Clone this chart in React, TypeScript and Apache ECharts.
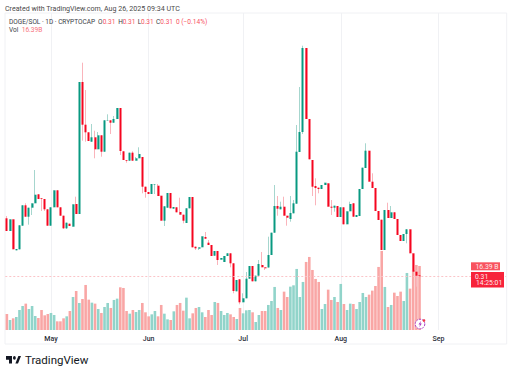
import React, { useEffect, useRef } from "react";
import * as echarts from "echarts";

const opens = [
  .3677,.355,.3667,.3357,.3367,.3603,.3807,.3693,.3783,.3827,.3917,.3877,.387,.3767,.3603,.3787,.3957,.3787,.3703,.3577,.3623,.3593,.382,.372,
  .504,.4613,.4537,.4443,.4487,.4367,.4507,.4343,.4653,.4657,.4633,.467,.478,.4347,.426,.4253,.4333,.4253,.4277,.429,.3993,.394,.392,.4015,.4003,.3903,
  .3653,.3783,.393,.3773,.3787,.374,.3713,.363,.3777,.389,.3393,.3373,.3387,.349,.3433,.341,.3303,.335,.3263,.324,.33,.3327,.3227,.2947,.3067,.2837,
  .2877,.3073,.32,.3047,.3103,.321,.3187,.3185,.331,.3533,.38,.3767,.3793,.3703,.367,.3727,.3823,.434,.454,.538,.467,.426,.4,.3983,.397,.401,.4027,.3793,
  .3783,.38,.369,.3787,.3617,.3747,.3827,.369,.37,.397,.418,.4353,.4043,.398,.375,.3663,.336,.376,.368,.3737,.367,.351,.345,.352,.3567,.3327,.3143,.3107,
];
const closes = [
  .355,.3667,.3367,.337,.3607,.3807,.3693,.3783,.3827,.3913,.387,.387,.3767,.3603,.3787,.3957,.3787,.3703,.3577,.3633,.36,.3817,.372,.504,
  .4613,.4537,.445,.4487,.4367,.4507,.4343,.4657,.4657,.4633,.467,.478,.435,.426,.4253,.4333,.4253,.4277,.432,.3993,.394,.392,.402,.402,.39,.3653,
  .3797,.393,.3777,.379,.3737,.3713,.3653,.3777,.389,.3387,.3377,.3387,.3497,.3473,.341,.33,.335,.326,.328,.33,.3327,.3227,.295,.306,.2837,.2877,
  .3073,.32,.3047,.3103,.322,.3187,.3177,.331,.3533,.38,.3773,.3793,.3703,.3683,.373,.3827,.4343,.454,.538,.467,.4267,.3993,.398,.397,.401,.4033,.3793,.3783,
  .3803,.369,.3787,.3617,.3747,.382,.3693,.371,.397,.4183,.4353,.4043,.398,.375,.366,.336,.376,.368,.3737,.367,.351,.345,.352,.3567,.3327,.3143,.3103,.3097,
];
const lows = [
  .355,.355,.3367,.3357,.3367,.3603,.3693,.3613,.371,.3827,.387,.375,.375,.3603,.3603,.3787,.3787,.3703,.357,.357,.36,.3593,.372,.372,
  .4453,.4443,.445,.4443,.4277,.4367,.4293,.4343,.4653,.452,.4633,.467,.431,.426,.4233,.4253,.4253,.4253,.4277,.3927,.3883,.392,.392,.392,.39,.3653,
  .36,.3783,.3777,.3773,.3737,.3713,.3627,.363,.3777,.3387,.336,.336,.3387,.3473,.341,.33,.3303,.321,.3263,.324,.33,.3187,.2927,.2947,.2817,.2837,
  .2877,.3073,.3047,.3047,.3103,.3187,.316,.3185,.331,.3533,.3703,.3767,.3703,.3603,.3643,.3727,.3823,.434,.452,.467,.4267,.39,.3807,.3927,.397,.401,.3793,.371,
  .3743,.369,.369,.3617,.3617,.3747,.3693,.369,.37,.397,.418,.4043,.398,.375,.366,.336,.336,.368,.368,.367,.351,.345,.345,.3427,.3327,.3143,.2993,.3097,
];
const highs = [
  .37,.3667,.3667,.337,.3607,.3807,.3827,.3783,.3827,.416,.3917,.3877,.387,.3767,.3787,.3957,.3957,.3787,.3703,.3633,.3623,.3817,.3893,.504,
  .5233,.496,.4537,.462,.4553,.454,.4507,.4657,.4717,.4657,.47,.478,.478,.4347,.426,.4333,.4347,.429,.4387,.429,.3993,.394,.402,.402,.402,.3903,
  .3797,.393,.393,.379,.3787,.3883,.3713,.3777,.389,.389,.3393,.3387,.3497,.354,.346,.341,.335,.335,.328,.33,.3327,.3327,.3227,.306,.3067,.2927,
  .314,.32,.32,.3103,.326,.334,.3187,.3493,.3533,.401,.39,.3843,.3893,.3703,.39,.386,.461,.499,.5403,.538,.467,.426,.4077,.3983,.401,.4033,.4027,.386,
  .3803,.38,.3787,.3787,.3747,.3843,.3827,.371,.397,.4183,.4427,.4353,.4127,.398,.375,.3663,.376,.3833,.38,.3737,.367,.351,.352,.3567,.3567,.3327,.316,.3107,
];
const volumes = [
  4.10,2.56,2.99,3.33,5.12,6.15,6.75,5.38,6.15,3.59,3.07,5.12,3.76,4.10,4.36,3.84,2.22,2.22,2.99,3.50,4.87,8.45,9.99,6.92,7.94,11.53,7.77,7.00,6.75,5.38,4.36,5.89,6.92,
  5.64,7.69,8.03,10.93,10.76,4.87,4.18,5.12,4.61,5.12,6.92,4.53,3.50,4.01,4.87,3.50,6.41,4.18,2.73,2.56,4.78,6.41,6.92,4.95,8.28,2.99,4.27,5.64,5.89,4.53,3.33,5.12,3.84,
  7.17,6.92,4.87,3.84,4.36,4.01,3.33,2.82,5.64,4.27,5.04,5.12,4.53,2.05,3.84,4.87,4.87,6.41,7.43,11.02,5.64,5.12,9.82,8.45,11.10,11.44,15.63,8.45,12.30,17.42,18.70,15.37,13.07,12.30,
  5.38,6.66,10.33,7.69,8.45,7.17,11.79,6.66,5.12,6.75,6.66,5.38,7.17,9.48,8.45,9.05,10.08,11.27,16.14,20.24,11.02,5.89,6.41,9.56,8.71,9.82,7.43,14.60,10.59,15.37,16.65,16.39,
];
const tickIndexes = [14, 45, 75, 106, 137];
const tickLabels = ["May", "Jun", "Jul", "Aug", "Sep"];
const categoryCount = 159;
const lastPrice = 0.31;
const priceMin = 0.256;
const priceMax = 0.573;
const volumeMax = 81.15;

const UP = "#089981";
const DOWN = "#f5051f";
const UP_WICK = "#a6d6ce";
const DOWN_WICK = "#fab4bb";
const UP_VOL = "#91d4ca";
const DOWN_VOL = "#f9a6a5";
const FONT = "Roboto, sans-serif";

echarts.graphic.registerShape(
  "tvMark",
  echarts.graphic.extendPath("M0 0H8V8H4V4H0Z M16.5 0L20 0L16 8H12.5Z M9.3 2A1.9 1.9 0 1 0 13.1 2A1.9 1.9 0 1 0 9.3 2Z", {})
);

const categories = Array.from({ length: categoryCount }, (_, i) => {
  const k = tickIndexes.indexOf(i);
  return k >= 0 ? tickLabels[k] : "d" + i;
});
const isTick = (i: number) => tickIndexes.includes(i);

const text = (x: number, y: number, t: string, fill: string, fontSize = 6.5, fontWeight: any = 400) => ({
  type: "text",
  x,
  y,
  silent: true,
  z: 20,
  style: { text: t, fill, fontSize, fontFamily: FONT, fontWeight, textVerticalAlign: "middle" },
});

export default function App() {
  const ref = useRef<HTMLDivElement>(null);
  useEffect(() => {
    const chart = echarts.init(ref.current!, undefined, { renderer: "svg" });
    const ohlc = opens.map((o, i) => [o, closes[i], lows[i], highs[i]]);
    const bodies = opens.map((o, i) => [o, closes[i], Math.min(o, closes[i]), Math.max(o, closes[i])]);
    chart.setOption({
      animation: false,
      backgroundColor: "#ffffff",
      grid: { left: 5.3, width: 500.85, top: 13, height: 317 },
      xAxis: {
        type: "category",
        data: categories,
        boundaryGap: true,
        axisLine: { show: false },
        axisTick: { show: false, alignWithLabel: true },
        axisLabel: {
          interval: (i: number) => isTick(i),
          color: "#2a2e39",
          fontSize: 7,
          fontFamily: FONT,
          fontWeight: 500,
          margin: 5,
          hideOverlap: false,
        },
        splitLine: { show: true, alignWithLabel: true, interval: (i: number) => isTick(i), lineStyle: { color: "#f0f1f4", width: 1 } },
      },
      yAxis: [
        { type: "value", scale: true, min: priceMin, max: priceMax, show: false, splitLine: { show: false } },
        { type: "value", min: 0, max: volumeMax, show: false, splitLine: { show: false } },
      ],
      series: [
        {
          name: "Vol",
          type: "bar",
          yAxisIndex: 1,
          barWidth: 2.6,
          z: 1,
          data: volumes.map((v, i) => ({
            value: v,
            itemStyle: { color: closes[i] >= opens[i] ? UP_VOL : DOWN_VOL },
          })),
        },
        {
          name: "Wicks",
          type: "candlestick",
          barWidth: 1,
          z: 2,
          itemStyle: { color: UP_WICK, color0: DOWN_WICK, borderColor: UP_WICK, borderColor0: DOWN_WICK, borderWidth: 1 },
          data: ohlc,
          markLine: {
            silent: true,
            symbol: "none",
            label: { show: false },
            lineStyle: { color: "#fbc4c8", type: [2, 2], width: 1 },
            data: [{ yAxis: lastPrice }],
          },
        },
        {
          name: "DOGE/SOL",
          type: "candlestick",
          barWidth: 2.5,
          z: 3,
          itemStyle: { color: UP, color0: DOWN, borderColor: UP, borderColor0: DOWN, borderWidth: 0 },
          data: bodies,
        },
      ],
      graphic: [
        { type: "rect", silent: true, z: 0, shape: { x: 5, y: 13, width: 501.7, height: 331 }, style: { fill: "none", stroke: "#f0f1f4", lineWidth: 1 } },
        text(5, 8, "Created with TradingView.com, Aug 26, 2025 09:34 UTC", "#4a4a4a", 7.1),
        text(9, 21.5, "DOGE/SOL · 1D · CRYPTOCAP", "#3a3d45", 6.5),
        text(98, 21.5, "O", "#3a3d45"),
        text(102.7, 21.5, "0.31", "#f7525f"),
        text(118.3, 21.5, "H", "#3a3d45"),
        text(122.7, 21.5, "0.31", "#f7525f"),
        text(137.7, 21.5, "L", "#3a3d45"),
        text(141, 21.5, "0.31", "#f7525f"),
        text(156, 21.5, "C", "#3a3d45"),
        text(160.3, 21.5, "0.31", "#f7525f"),
        text(176, 21.5, "0 (−0.14%)", "#f7525f", 6.6),
        text(9, 30, "Vol", "#3a3d45"),
        text(21.7, 30, "16.39B", "#f7737d", 6.6),
        { type: "rect", silent: true, z: 20, shape: { x: 471, y: 262.3, width: 29, height: 8 }, style: { fill: "#f8535f" } },
        text(475.5, 266.6, "16.39 B", "#ffe9ea", 6.8),
        { type: "rect", silent: true, z: 20, shape: { x: 471, y: 272, width: 33, height: 15.5 }, style: { fill: "#f7233a" } },
        text(475, 276.5, "0.31", "#ffe9ea", 6.8),
        text(476, 283.3, "14:25:01", "#ffe9ea", 6.8),
        { type: "circle", silent: true, z: 21, shape: { cx: 420, cy: 324, r: 4.8 }, style: { fill: "#ffffff", stroke: "#a93ac2", lineWidth: 1, lineDash: [2, 1] } },
        { type: "polygon", silent: true, z: 22, shape: { points: [[421, 320.8], [418.5, 324.5], [420, 324.5], [419.3, 327.2], [421.8, 323.5], [420.3, 323.5]] }, style: { fill: "#a93ac2" } },
        { type: "circle", silent: true, z: 22, shape: { cx: 424, cy: 320.5, r: 1.3 }, style: { fill: "#f23645" } },
        { type: "tvMark", silent: true, z: 20, x: 6, y: 356, scaleX: 0.75, scaleY: 0.95, style: { fill: "#131722" } },
        text(25, 360.3, "TradingView", "#131722", 11.5, 400),
      ],
    });
    return () => chart.dispose();
  }, []);
  return <div ref={ref} style={{ position: "fixed", left: 0, top: 0, width: 512, height: 375, background: "#fff" }} />;
}
